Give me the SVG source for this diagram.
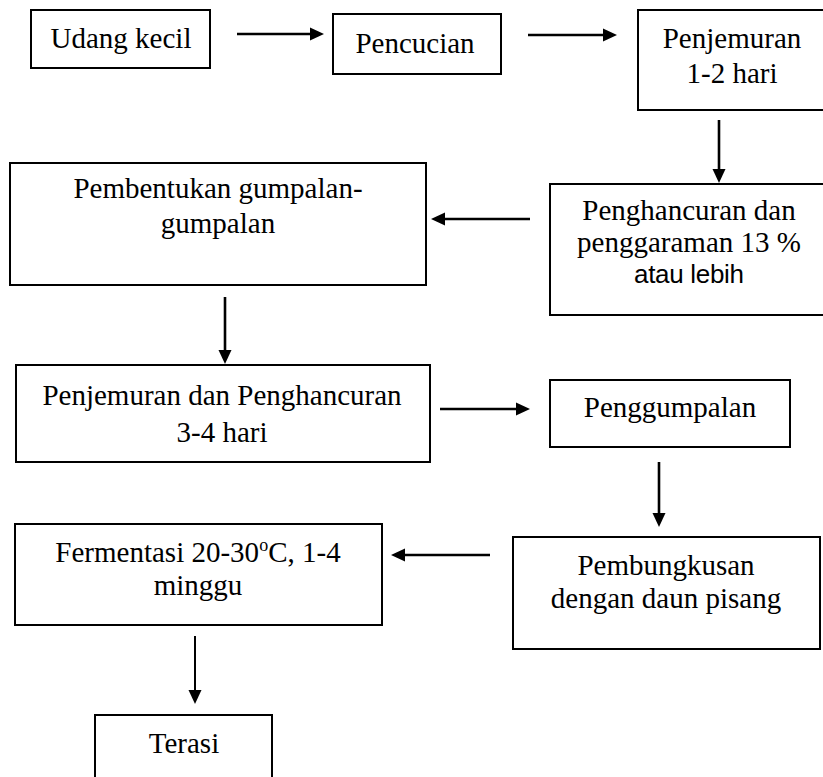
<svg xmlns="http://www.w3.org/2000/svg" width="823" height="777" viewBox="0 0 823 777">
<defs>
<style>
.box{fill:#fff;stroke:#000;stroke-width:2}
.t{font-family:"Liberation Serif","Times New Roman",serif;font-size:29px;fill:#000;text-anchor:middle}
.s{font-family:"Liberation Sans",Arial,sans-serif;font-size:26px;fill:#000;text-anchor:middle}
.c{stroke:#000;stroke-width:2.6;fill:none;marker-end:url(#ah)}
.c2{stroke:#000;stroke-width:2;fill:none;marker-end:url(#ah)}
</style>
<marker id="ah" markerUnits="userSpaceOnUse" markerWidth="14" markerHeight="14" refX="2" refY="7" orient="auto">
<path d="M0,0.5 L14,7 L0,13.5 z" fill="#000"/>
</marker>
</defs>
<rect width="823" height="777" fill="#fff"/>
<g id="connectors">
<line class="c" x1="237" y1="34" x2="312" y2="34"/>
<line class="c" x1="528" y1="35" x2="605" y2="35"/>
<line class="c" x1="719" y1="120" x2="719" y2="171"/>
<line class="c" x1="530" y1="219" x2="443" y2="219"/>
<line class="c" x1="225" y1="297" x2="225" y2="352"/>
<line class="c" x1="440" y1="409" x2="518" y2="409"/>
<line class="c" x1="659" y1="462" x2="659" y2="515"/>
<line class="c" x1="490" y1="555" x2="403" y2="555"/>
<line class="c2" x1="195" y1="636" x2="195" y2="692"/>
</g>
<g id="n1"><rect class="box" x="31" y="10" width="179" height="58"/><text class="t" x="121" y="48">Udang kecil</text></g>
<g id="n2"><rect class="box" x="333" y="14" width="168" height="60"/><text class="t" x="415" y="53">Pencucian</text></g>
<g id="n3"><rect class="box" x="638" y="10" width="200" height="100"/><text class="t" x="732" y="48">Penjemuran</text><text class="t" x="732" y="83">1-2 hari</text></g>
<g id="n4"><rect class="box" x="550" y="184" width="290" height="131"/><text class="t" x="689" y="220">Penghancuran dan</text><text class="t" x="689" y="252">penggaraman 13 %</text><text class="s" x="689" y="283" textLength="110">atau lebih</text></g>
<g id="n5"><rect class="box" x="10" y="163" width="416" height="122"/><text class="t" x="218" y="198">Pembentukan gumpalan-</text><text class="t" x="218" y="233">gumpalan</text></g>
<g id="n6"><rect class="box" x="16" y="365" width="414" height="97"/><text class="t" x="222" y="405">Penjemuran dan Penghancuran</text><text class="t" x="222" y="442">3-4 hari</text></g>
<g id="n7"><rect class="box" x="550" y="380" width="240" height="67"/><text class="t" x="670" y="417">Penggumpalan</text></g>
<g id="n8"><rect class="box" x="513" y="537" width="307" height="112"/><text class="t" x="666" y="575">Pembungkusan</text><text class="t" x="666" y="608">dengan daun pisang</text></g>
<g id="n9"><rect class="box" x="15" y="524" width="367" height="101"/><text class="t" x="198" y="562">Fermentasi 20-30<tspan font-size="18" dy="-11">o</tspan><tspan dy="11">C, 1-4</tspan></text><text class="t" x="198" y="595">minggu</text></g>
<g id="n10"><rect class="box" x="95" y="715" width="177" height="80"/><text class="t" x="184" y="753">Terasi</text></g>
</svg>
